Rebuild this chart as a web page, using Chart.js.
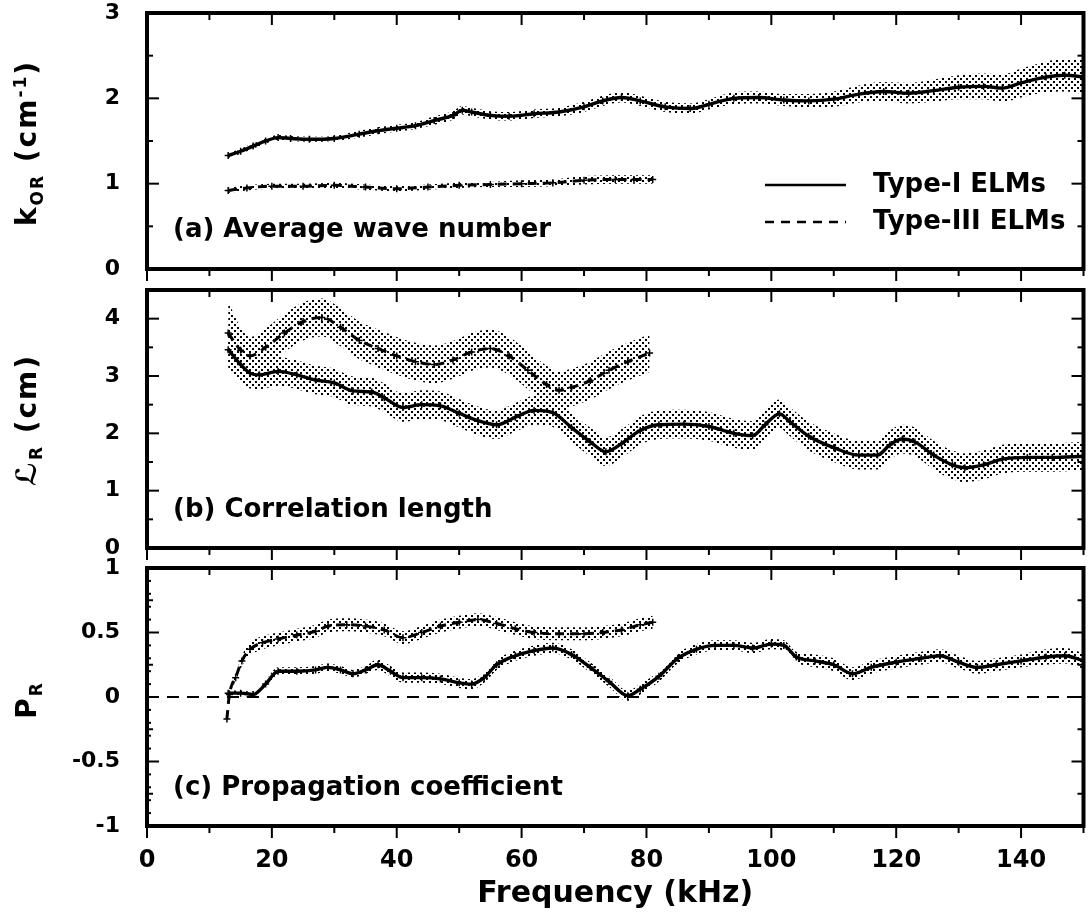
<!DOCTYPE html>
<html><head><meta charset="utf-8">
<script src="https://cdn.jsdelivr.net/npm/chart.js@4.4.1/dist/chart.umd.min.js"></script>
<style>
html,body{margin:0;padding:0;background:#fff;}
#wrap{position:relative;width:1089px;height:920px;overflow:hidden;background:#fff;}
canvas{position:absolute;left:0;top:0;}
.ytitle{position:absolute;font-family:"DejaVu Sans",sans-serif;font-weight:bold;font-size:28px;letter-spacing:2px;color:#000;white-space:nowrap;line-height:1;transform:translate(-50%,-50%) rotate(-90deg);}
.ytitle sub,.ytitle sup{font-size:17px;line-height:1;}
</style></head>
<body>
<div id="wrap">
<canvas id="ca" width="1089" height="920"></canvas>
<canvas id="cb" width="1089" height="920"></canvas>
<canvas id="cc" width="1089" height="920"></canvas>
<div class="ytitle" style="left:29px;top:143px;">k<sub>OR</sub> (cm<sup>-1</sup>)</div>
<div class="ytitle" style="left:29px;top:420px;">&#x2112;<sub>R</sub> (cm)</div>
<div class="ytitle" style="left:29px;top:700px;">P<sub>R</sub></div>
</div>
<script>
// ---------- data ----------
const xTickValues = [0, 20, 40, 60, 80, 100, 120, 140];

// (a) average wave number k_OR (cm^-1)
const aFreqI = [13,15,17,19,21,23,26,30,34,37,40,43,46,49,50.5,52,55,58,62,66,70,73,76,79,83,87,90,94,98,102,106,110,114,118,122,126,130,134,137,140,144,147,150];
const aKorI  = [1.33,1.38,1.44,1.50,1.54,1.53,1.52,1.53,1.58,1.62,1.65,1.68,1.74,1.80,1.86,1.84,1.80,1.79,1.82,1.84,1.90,1.97,2.01,1.97,1.90,1.88,1.93,2.00,2.01,1.98,1.97,1.99,2.05,2.08,2.06,2.09,2.13,2.14,2.12,2.18,2.25,2.27,2.25];
const aErrI  = [0.03,0.03,0.03,0.03,0.03,0.03,0.03,0.03,0.04,0.04,0.04,0.04,0.05,0.05,0.05,0.05,0.05,0.05,0.05,0.05,0.06,0.06,0.06,0.06,0.06,0.06,0.06,0.07,0.07,0.07,0.08,0.09,0.10,0.11,0.12,0.13,0.14,0.15,0.16,0.17,0.18,0.19,0.20];
const aFreqIII = [13,16,20,25,30,35,40,45,50,55,60,65,70,75,78,81];
const aKorIII  = [0.92,0.95,0.97,0.97,0.98,0.96,0.94,0.96,0.98,0.99,1.00,1.01,1.04,1.05,1.05,1.05];
const aErrIII  = [0.03,0.03,0.03,0.03,0.03,0.03,0.03,0.03,0.03,0.03,0.04,0.04,0.05,0.05,0.05,0.05];
const aYTicks = [0, 1, 2, 3];

// (b) correlation length L_R (cm)
const bFreqI = [13,15,16.5,18,21,24,27,30,33,36,38,41,44,47,50,53,56,59,62,65,68,71,73.5,76,79,82,86,90,94,97,99,101.3,103,106,110,114,117,119,121,123,126,129,131,134,137,141,145,150];
const bLenI  = [3.46,3.20,3.05,3.02,3.08,3.02,2.93,2.88,2.74,2.72,2.62,2.45,2.50,2.48,2.35,2.22,2.15,2.28,2.40,2.36,2.10,1.85,1.68,1.82,2.05,2.15,2.16,2.12,2.00,1.96,2.15,2.34,2.20,1.95,1.75,1.62,1.62,1.80,1.90,1.85,1.62,1.45,1.40,1.45,1.55,1.58,1.58,1.60];
const bErrI  = [0.35,0.30,0.27,0.25,0.25,0.25,0.25,0.25,0.25,0.25,0.25,0.25,0.25,0.25,0.25,0.25,0.25,0.25,0.25,0.25,0.25,0.25,0.25,0.25,0.25,0.25,0.25,0.25,0.25,0.25,0.25,0.25,0.25,0.25,0.25,0.25,0.25,0.25,0.25,0.25,0.25,0.25,0.25,0.25,0.25,0.25,0.25,0.25];
const bFreqIII = [13,15,16.5,19,22,25,28,31,34,37,40,43,46,49,52,55,58,61,64,66,68,71,74,77,80.5];
const bLenIII  = [3.75,3.45,3.35,3.50,3.75,3.95,4.02,3.85,3.62,3.48,3.35,3.25,3.20,3.28,3.42,3.48,3.35,3.10,2.85,2.75,2.80,2.92,3.10,3.25,3.40];
const bErrIII  = [0.55,0.40,0.33,0.33,0.33,0.33,0.33,0.33,0.33,0.33,0.33,0.33,0.33,0.33,0.33,0.33,0.33,0.33,0.33,0.33,0.33,0.33,0.33,0.33,0.33];
const bYTicks = [0, 1, 2, 3, 4];

// (c) propagation coefficient P_R
const cFreqI = [13,15,17,19,21,24,27,29,31,33,35,37,39,41,44,47,50,52,54,56,59,62,65,68,71,74,77,79,82,85,88,91,94,97,100,102,104,107,110,113,116,120,124,127,130,133,136,140,144,147,150];
const cPropI = [0.03,0.03,0.02,0.10,0.20,0.20,0.21,0.23,0.21,0.18,0.21,0.25,0.20,0.15,0.15,0.14,0.11,0.10,0.15,0.25,0.32,0.36,0.38,0.33,0.23,0.12,0.01,0.06,0.16,0.30,0.37,0.40,0.40,0.38,0.41,0.40,0.31,0.28,0.25,0.18,0.23,0.27,0.30,0.32,0.27,0.23,0.25,0.28,0.31,0.32,0.28];
const cErrI  = [0.02,0.02,0.02,0.03,0.03,0.03,0.03,0.03,0.03,0.03,0.03,0.04,0.04,0.04,0.04,0.04,0.04,0.04,0.04,0.04,0.04,0.04,0.04,0.04,0.04,0.04,0.04,0.04,0.04,0.04,0.04,0.04,0.04,0.04,0.04,0.04,0.04,0.05,0.05,0.05,0.05,0.05,0.05,0.05,0.05,0.05,0.05,0.05,0.06,0.06,0.06];
const cFreqIII = [12.8,13.2,14.2,15.2,16.5,18.5,21,24,27,29,32,35,38,41,44,47,50,53,56,59,62,66,70,73,76,79,81];
const cPropIII = [-0.17,0.02,0.15,0.28,0.37,0.42,0.45,0.48,0.51,0.55,0.56,0.55,0.52,0.46,0.50,0.55,0.58,0.60,0.57,0.53,0.50,0.49,0.49,0.50,0.52,0.56,0.58];
const cErrIII  = [0.00,0.02,0.03,0.04,0.05,0.05,0.05,0.05,0.05,0.05,0.05,0.05,0.05,0.05,0.05,0.05,0.05,0.05,0.05,0.05,0.05,0.05,0.05,0.05,0.05,0.05,0.05];
const cZeroFreq = [0, 150];
const cZeroVal  = [0, 0];
const cYTicks = [-1, -0.5, 0, 0.5, 1];

// ---------- helpers ----------
const FONT = '"DejaVu Sans", sans-serif';
function makePattern(){
  const c = document.createElement('canvas'); c.width = 6; c.height = 6;
  const g = c.getContext('2d'); g.fillStyle = '#000';
  g.fillRect(0, 0, 2, 2); g.fillRect(3, 3, 2, 2);
  return g.createPattern(c, 'repeat');
}
const PAT = makePattern();
function pts(xs, ys){ return xs.map((x, i) => ({x: x, y: ys[i]})); }
function band(xs, ys, errs){
  return [
    {data: xs.map((x, i) => ({x: x, y: ys[i] + errs[i]})), borderWidth: 0, pointRadius: 0, fill: '+1', backgroundColor: PAT, cubicInterpolationMode: 'monotone'},
    {data: xs.map((x, i) => ({x: x, y: ys[i] - errs[i]})), borderWidth: 0, pointRadius: 0, fill: false, cubicInterpolationMode: 'monotone'}
  ];
}
function solidLine(xs, ys){
  return {data: pts(xs, ys), borderColor: '#000', borderWidth: 3.4, fill: false, cubicInterpolationMode: 'monotone',
    pointStyle: 'cross', pointRadius: 3.5, pointBorderWidth: 1.5, pointBorderColor: '#000', pointBackgroundColor: '#000'};
}
function dashLine(xs, ys){
  return {data: pts(xs, ys), borderColor: '#000', borderWidth: 3, borderDash: [9, 6], fill: false, cubicInterpolationMode: 'monotone',
    pointStyle: 'cross', pointRadius: 3.5, pointBorderWidth: 1.5, pointBorderColor: '#000', pointBackgroundColor: '#000'};
}

const framePlugin = {
  id: 'frame',
  afterDatasetsDraw(chart, args, o){
    const {ctx, chartArea: a, scales: {x, y}} = chart;
    ctx.save();
    ctx.strokeStyle = '#000';
    const seg = (x1, y1, x2, y2) => { ctx.beginPath(); ctx.moveTo(x1, y1); ctx.lineTo(x2, y2); ctx.stroke(); };
    ctx.lineWidth = 2;
    for (let v = 0; v <= 150; v += 10){
      const px = x.getPixelForValue(v);
      const L = (v % 20 === 0) ? 12 : 7;
      seg(px, a.bottom, px, a.bottom + L);
      seg(px, a.top, px, a.top + L);
    }
    (o.major || []).forEach(v => { const py = y.getPixelForValue(v); seg(a.left, py, a.left + 12, py); seg(a.right, py, a.right - 12, py); });
    (o.minor || []).forEach(v => { const py = y.getPixelForValue(v); seg(a.left, py, a.left + 6, py); seg(a.right, py, a.right - 6, py); });
    (o.tiny || []).forEach(v => { const py = y.getPixelForValue(v); seg(a.left, py, a.left + 4, py); });
    ctx.lineWidth = 4;
    ctx.strokeRect(a.left, a.top, a.right - a.left, a.bottom - a.top);
    // panel label
    ctx.fillStyle = '#000';
    ctx.font = 'bold 26px ' + FONT;
    ctx.textBaseline = 'middle';
    ctx.textAlign = 'left';
    if (o.label) ctx.fillText(o.label, 173, o.labelY);
    if (o.legend){
      ctx.lineWidth = 2.5;
      ctx.setLineDash([]);
      seg(765, 185, 846, 185);
      ctx.setLineDash([9, 7]);
      seg(765, 222, 846, 222);
      ctx.setLineDash([]);
      ctx.fillText('Type-I ELMs', 873, 185);
      ctx.fillText('Type-III ELMs', 873, 222);
    }
    ctx.restore();
  }
};

function options(yMin, yMax, yTicks, padTop, padBottom, showX, frameOpts){
  return {
    responsive: false, animation: false, events: [],
    layout: {padding: {top: padTop, bottom: padBottom, left: 0, right: 1}},
    plugins: {legend: {display: false}, tooltip: {enabled: false}, frame: frameOpts},
    scales: {
      x: {
        type: 'linear', min: 0, max: 150, display: showX,
        grid: {display: false}, border: {display: false},
        afterBuildTicks: s => { s.ticks = xTickValues.map(v => ({value: v})); },
        afterFit: s => { if (showX) { s.height = 94; } else { s.height = 0; } s.paddingLeft = 0; s.paddingRight = 0; },
        ticks: {autoSkip: false, maxRotation: 0, padding: 12, color: '#000', font: {family: FONT, weight: 'bold', size: 24}},
        title: {display: showX, text: 'Frequency (kHz)', color: '#000', font: {family: FONT, weight: 'bold', size: 30}, padding: {top: 0, bottom: 8}}
      },
      y: {
        type: 'linear', min: yMin, max: yMax,
        grid: {display: false}, border: {display: false},
        afterBuildTicks: s => { s.ticks = yTicks.map(v => ({value: v})); },
        afterFit: s => { s.width = 147; s.paddingTop = 0; s.paddingBottom = 0; },
        ticks: {padding: 19, color: '#000', font: {family: FONT, weight: 'bold', size: 22}, callback: v => String(v)}
      }
    }
  };
}

new Chart(document.getElementById('ca'), {
  type: 'line',
  data: {datasets: [...band(aFreqI, aKorI, aErrI), solidLine(aFreqI, aKorI), ...band(aFreqIII, aKorIII, aErrIII), dashLine(aFreqIII, aKorIII)]},
  options: options(0, 3, aYTicks, 13, 651, false, {major: [0,1,2,3], minor: [0.5,1.5,2.5], label: '(a) Average wave number', labelY: 230, legend: true}),
  plugins: [framePlugin]
});
new Chart(document.getElementById('cb'), {
  type: 'line',
  data: {datasets: [...band(bFreqI, bLenI, bErrI), solidLine(bFreqI, bLenI), ...band(bFreqIII, bLenIII, bErrIII), dashLine(bFreqIII, bLenIII)]},
  options: options(0, 4.5, bYTicks, 290, 372, false, {major: [0,1,2,3,4], minor: [0.5,1.5,2.5,3.5], label: '(b) Correlation length', labelY: 510}),
  plugins: [framePlugin]
});
new Chart(document.getElementById('cc'), {
  type: 'line',
  data: {datasets: [
    {data: pts(cZeroFreq, cZeroVal), borderColor: '#000', borderWidth: 2, borderDash: [12, 8], pointRadius: 0, fill: false},
    ...band(cFreqI, cPropI, cErrI), solidLine(cFreqI, cPropI), ...band(cFreqIII, cPropIII, cErrIII), dashLine(cFreqIII, cPropIII)]},
  options: options(-1, 1, cYTicks, 568, 0, true, {major: [-1,-0.5,0,0.5,1], minor: [-0.75,-0.25,0.25,0.75], tiny: [-0.9,-0.8,-0.7,-0.6,-0.4,-0.3,-0.2,-0.1,0.1,0.2,0.3,0.4,0.6,0.7,0.8,0.9], label: '(c) Propagation coefficient', labelY: 788}),
  plugins: [framePlugin]
});
</script>
</body></html>
